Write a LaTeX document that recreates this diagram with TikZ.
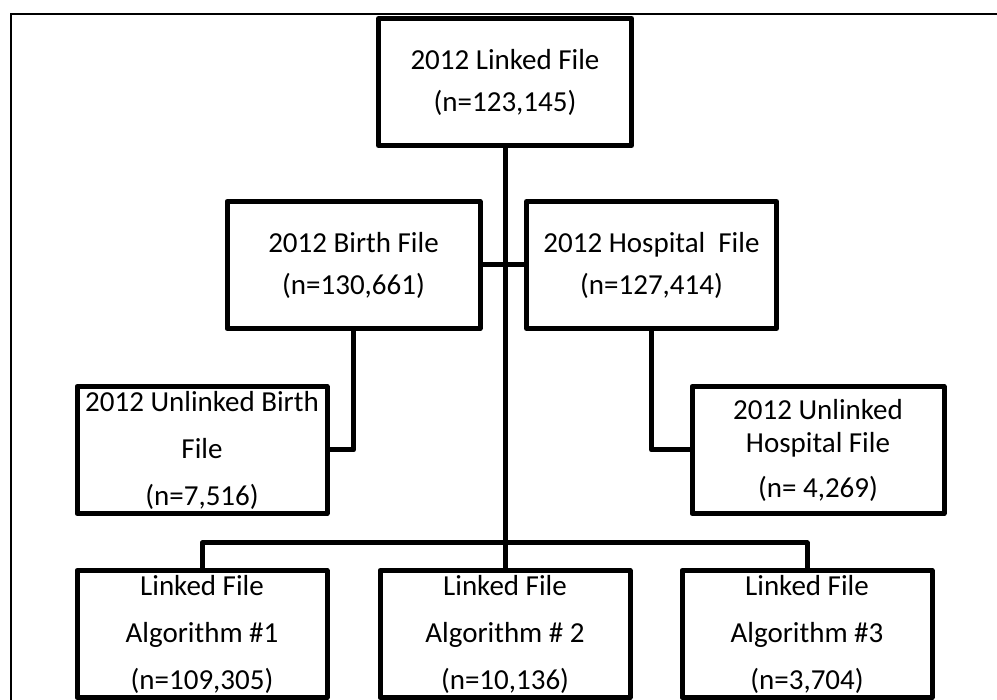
\documentclass[tikz,border=0pt]{standalone}
\usepackage{fontspec}
\setmainfont{Carlito}
\usepackage{tikz}
\usetikzlibrary{positioning,calc}

\begin{document}
\begin{tikzpicture}[x=1pt, y=-1pt,
    filebox/.style={draw, line width=5pt, line join=round, rectangle, align=center,
        minimum width=250pt, minimum height=127pt, inner sep=0pt,
        font=\fontsize{29}{42}\selectfont},
    link/.style={line width=5pt, line join=round},
]
    \useasboundingbox (0,0) rectangle (997,700);
    % frame
    \draw[line width=2.5pt] (11,700) -- (11,14) -- (997,14);
    % boxes
    \node[filebox, minimum width=253pt] (linked) at (505,82) {2012 Linked File\\(n=123,145)};
    \node[filebox, minimum width=253pt] (birth) at (353.5,265) {2012 Birth File\\(n=130,661)};
    \node[filebox] (hosp) at (651.5,265) {2012 Hospital\ \ File\\(n=127,414)};
    \node[filebox] (ubirth) at (202,450) {2012 Unlinked Birth\\[5pt]File\\[5pt](n=7,516)};
    \node[filebox, minimum width=252pt] (uhosp) at (818,450) {2012 Unlinked\\[-9pt]Hospital File\\[3pt](n= 4,269)};
    \foreach \name/\x/\alg/\n in {alg1/202/{\#1}/{109,305}, alg2/505/{\# 2}/{10,136}, alg3/807/{\#3}/{3,704}} {
        \node[filebox] (\name) at (\x,634) {Linked File\\[5pt]Algorithm \alg\\[5pt](n=\n)};
    }
    % connectors
    \coordinate (bus) at (505,543);
    \draw[link] (linked.south) -- (alg2.north);
    \draw[link] (birth.east) -- (hosp.west);
    \draw[link] (birth.south) |- (ubirth.east);
    \draw[link] (hosp.south) |- (uhosp.west);
    \draw[link] (alg1.north) |- (bus) -| (alg3.north);
\end{tikzpicture}
\end{document}
